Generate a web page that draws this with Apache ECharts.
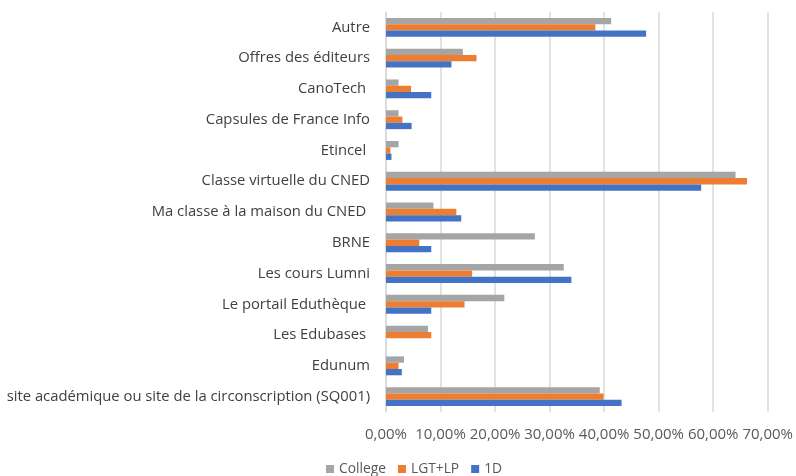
<!DOCTYPE html>
<html>
<head>
    <meta charset="utf-8">
    <title>Ressources</title>
    <script src="https://cdn.jsdelivr.net/npm/echarts@6/dist/echarts.min.js"></script>
    <style>
        html, body { margin: 0; padding: 0; background: #fff; }
        #chart { width: 796px; height: 476px; }
    </style>
</head>
<body>
<div id="chart"></div>
<script type="text/javascript">
    // categories, bottom to top (as the axis draws them)
    var categories = [
        'site académique ou site de la circonscription (SQ001)',
        'Edunum',
        'Les Edubases ',
        'Le portail Eduthèque ',
        'Les cours Lumni',
        'BRNE',
        'Ma classe à la maison du CNED ',
        'Classe virtuelle du CNED',
        'Etincel ',
        'Capsules de France Info',
        'CanoTech ',
        'Offres des éditeurs',
        'Autre'
    ];
    // values in %
    var college = [39.2, 3.3, 7.7, 21.7, 32.6, 27.3, 8.7, 64.1, 2.3, 2.3, 2.3, 14.1, 41.3];
    var lgtlp   = [39.9, 2.3, 8.3, 14.4, 15.8, 6.1, 12.9, 66.2, 0.8, 3.0, 4.6, 16.6, 38.4];
    var primaire = [43.2, 2.9, 0, 8.3, 34.0, 8.3, 13.8, 57.8, 1.0, 4.7, 8.3, 12.0, 47.7];

    var chart = echarts.init(document.getElementById('chart'));

    var option = {
        animation: false,
        textStyle: { fontFamily: 'Open Sans' },
        grid: { left: 386, right: 26, top: 12, bottom: 64 },
        legend: {
            data: ['College', 'LGT+LP', '1D'],
            bottom: -5,
            left: 321,
            itemWidth: 8,
            itemHeight: 8,
            itemGap: 12,
            icon: 'rect',
            textStyle: { color: '#595959', fontSize: 13.8 }
        },
        xAxis: {
            type: 'value',
            min: 0,
            max: 70,
            interval: 10,
            axisLine: { show: false },
            axisTick: { show: false },
            splitLine: { lineStyle: { color: '#d9d9d9', width: 1.5 } },
            axisLabel: {
                color: '#595959',
                fontSize: 15,
                margin: 15,
                formatter: function (v) { return v.toFixed(2).replace('.', ',') + '%'; }
            }
        },
        yAxis: {
            type: 'category',
            data: categories,
            axisLine: { show: true, lineStyle: { color: '#d9d9d9', width: 1.5 } },
            axisTick: { show: false },
            axisLabel: { color: '#404040', fontSize: 14.8, margin: 16 }
        },
        series: [
            {
                name: 'College', type: 'bar', data: college,
                barWidth: 6.3, barGap: '0%',
                itemStyle: { color: '#a5a5a5' }
            },
            {
                name: 'LGT+LP', type: 'bar', data: lgtlp,
                barWidth: 6.3, barGap: '0%',
                itemStyle: { color: '#ed7d31' }
            },
            {
                name: '1D', type: 'bar', data: primaire,
                barWidth: 6.3, barGap: '0%',
                itemStyle: { color: '#4472c4' }
            }
        ]
    };

    chart.setOption(option);
</script>
</body>
</html>
